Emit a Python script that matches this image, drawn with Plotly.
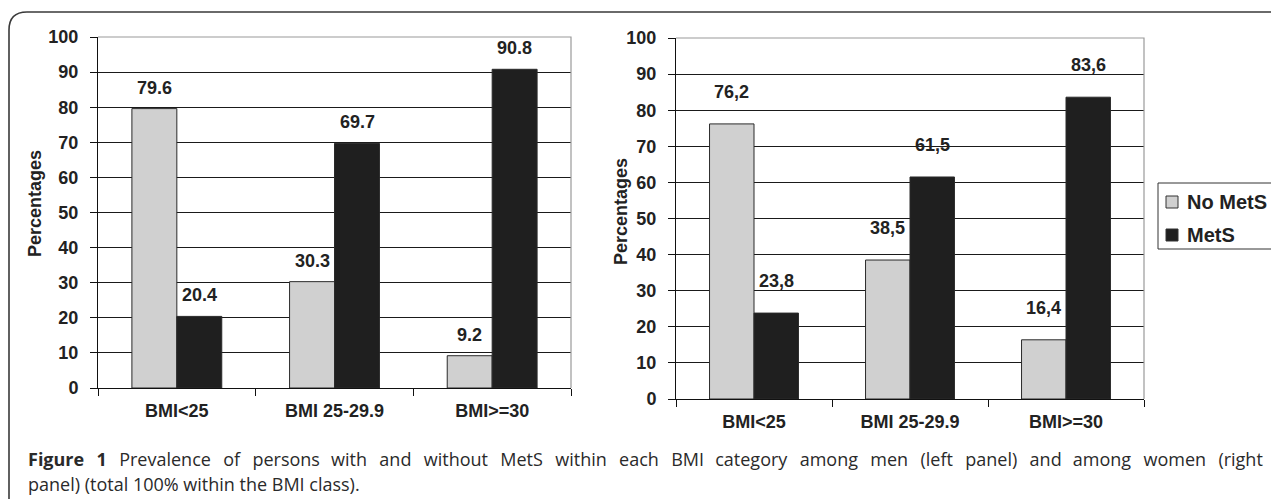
import plotly.graph_objects as go

# page body has an 8px margin: figure occupies window pixels 8..1279 x 8..499
OFF = 8
W, H = 1279 - OFF, 499 - OFF

categories = ["BMI<25", "BMI 25-29.9", "BMI>=30"]
men_no_mets = [79.6, 30.3, 9.2]
men_mets = [20.4, 69.7, 90.8]
women_no_mets = [76.2, 38.5, 16.4]
women_mets = [23.8, 61.5, 83.6]
men_labels_no = ["79.6", "30.3", "9.2"]
men_labels_mets = ["20.4", "69.7", "90.8"]
women_labels_no = ["76,2", "38,5", "16,4"]
women_labels_mets = ["23,8", "61,5", "83,6"]
y_ticks = [0, 10, 20, 30, 40, 50, 60, 70, 80, 90, 100]
series_names = ["No MetS", "MetS"]
caption_words1 = ["<b>Figure", "1</b>", "Prevalence", "of", "persons", "with", "and", "without",
                  "MetS", "within", "each", "BMI", "category", "among", "men", "(left",
                  "panel)", "and", "among", "women", "(right"]
caption_line2 = "panel) (total 100% within the BMI class)."

GRAY = "#d0d0d0"
BLACK = "#1f1f1f"
OUTLINE = "#2a2a2a"
FONT = "Liberation Sans"

def px(x):
    return (x - OFF) / W

def py(y):
    return 1 - (y - OFF) / H

fig = go.Figure()

for (vals_no, vals_m, xa, ya) in [
    (men_no_mets, men_mets, "x", "y"),
    (women_no_mets, women_mets, "x2", "y2"),
]:
    fig.add_trace(go.Bar(x=categories, y=vals_no, name=series_names[0],
                         marker=dict(color=GRAY, line=dict(color=OUTLINE, width=1)),
                         xaxis=xa, yaxis=ya, showlegend=False, offsetgroup="a"))
    fig.add_trace(go.Bar(x=categories, y=vals_m, name=series_names[1],
                         marker=dict(color=BLACK, line=dict(color=OUTLINE, width=1)),
                         xaxis=xa, yaxis=ya, showlegend=False, offsetgroup="b"))

label_font = dict(family=FONT, size=18, color="#222", weight="bold")
annotations = []
for (vals_no, vals_m, lab_no, lab_m, xa, ya, ys) in [
    (men_no_mets, men_mets, men_labels_no, men_labels_mets, "x", "y", 9),
    (women_no_mets, women_mets, women_labels_no, women_labels_mets, "x2", "y2", 20),
]:
    for c, v, t in zip(categories, vals_no, lab_no):
        annotations.append(dict(x=c, y=v, xref=xa, yref=ya, text=t, showarrow=False,
                                xshift=-22.5, yanchor="bottom", yshift=ys, font=label_font))
    for c, v, t in zip(categories, vals_m, lab_m):
        annotations.append(dict(x=c, y=v, xref=xa, yref=ya, text=t, showarrow=False,
                                xshift=22.5, yanchor="bottom", yshift=ys, font=label_font))

# y-axis titles
for xc, yc in [(35, 204), (621, 212)]:
    annotations.append(dict(x=px(xc), y=py(yc), xref="paper", yref="paper", text="Percentages",
                            textangle=-90, showarrow=False, xanchor="center",
                            yanchor="middle", font=label_font))

# caption (first line justified: widened word gaps)
line1 = caption_words1[0]
for i, w in enumerate(caption_words1[1:]):
    extra = "&nbsp;" + ("\u200a" if i in (4, 11, 17) else "\u2009")
    line1 += " " + extra + w
cap_font = dict(family="Open Sans", size=18, color="#2a2a2a")
annotations.append(dict(x=px(26), y=py(459), xref="paper", yref="paper", text=line1,
                        showarrow=False, xanchor="left", yanchor="middle", font=cap_font))
annotations.append(dict(x=px(26), y=py(484), xref="paper", yref="paper", text=caption_line2,
                        showarrow=False, xanchor="left", yanchor="middle", font=cap_font))

# legend (drawn as a key box)
leg_font = dict(family=FONT, size=20, color="#222", weight="bold")
shapes = []
shapes.append(dict(type="rect", xref="paper", yref="paper", x0=px(1158), x1=px(1276),
                   y0=py(249), y1=py(183), line=dict(color="#333", width=1), fillcolor="white"))
for name, col, yc in [(series_names[0], GRAY, 202), (series_names[1], BLACK, 235)]:
    shapes.append(dict(type="rect", xref="paper", yref="paper", x0=px(1166), x1=px(1178),
                       y0=py(yc + 6), y1=py(yc - 6), line=dict(color="#333", width=1),
                       fillcolor=col))
    annotations.append(dict(x=px(1185), y=py(yc), xref="paper", yref="paper", text=name,
                            showarrow=False, xanchor="left", yanchor="middle", font=leg_font))

axis_font = dict(family=FONT, size=18, color="#222", weight="bold")

def yaxis_cfg(d0, d1, anchor):
    return dict(domain=[d0, d1], range=[0, 100], tickvals=y_ticks, anchor=anchor,
                showline=True, linecolor="#111", linewidth=1, ticks="outside",
                ticklen=7, tickcolor="#111", showgrid=True, gridcolor="#1a1a1a",
                gridwidth=1, zeroline=False, tickfont=axis_font, fixedrange=True,
                automargin=False, ticklabelstandoff=8)

def xaxis_cfg(d0, d1, anchor):
    return dict(domain=[d0, d1], anchor=anchor, showline=True, linecolor="#111",
                linewidth=1, ticks="outside", tickson="boundaries", ticklen=7,
                tickcolor="#111", tickfont=axis_font, showgrid=False, fixedrange=True,
                automargin=False, ticklabelstandoff=6)

# gray plot-area borders (top and right)
for (x0, x1, y0, y1) in [(98, 571, 37, 388), (676, 1144, 38, 399)]:
    shapes.append(dict(type="path", xref="paper", yref="paper",
                       path=f"M {px(x0)},{py(y0)} L {px(x1)},{py(y0)} L {px(x1)},{py(y1)}",
                       line=dict(color="#9a9a9a", width=1.2), layer="above"))
# outer rounded frame
r = 18
shapes.append(dict(type="path", xref="paper", yref="paper",
                   path=(f"M {px(9)},{py(520)} L {px(9)},{py(12 + r)} "
                         f"Q {px(9)},{py(12)} {px(9 + r)},{py(12)} L {px(1300)},{py(12)}"),
                   line=dict(color="#3a3a3a", width=1.6)))

fig.update_layout(
    width=W, height=H,
    margin=dict(l=0, r=0, t=0, b=0, autoexpand=False),
    paper_bgcolor="white", plot_bgcolor="white",
    barmode="group", bargap=0.43, bargroupgap=0,
    xaxis=xaxis_cfg(px(98), px(571), "y"),
    yaxis=yaxis_cfg(py(388), py(37), "x"),
    xaxis2=xaxis_cfg(px(676), px(1144), "y2"),
    yaxis2=yaxis_cfg(py(399), py(38), "x2"),
    annotations=annotations,
    shapes=shapes,
    showlegend=False,
)

fig.write_html("out.html", config={"displayModeBar": False})
